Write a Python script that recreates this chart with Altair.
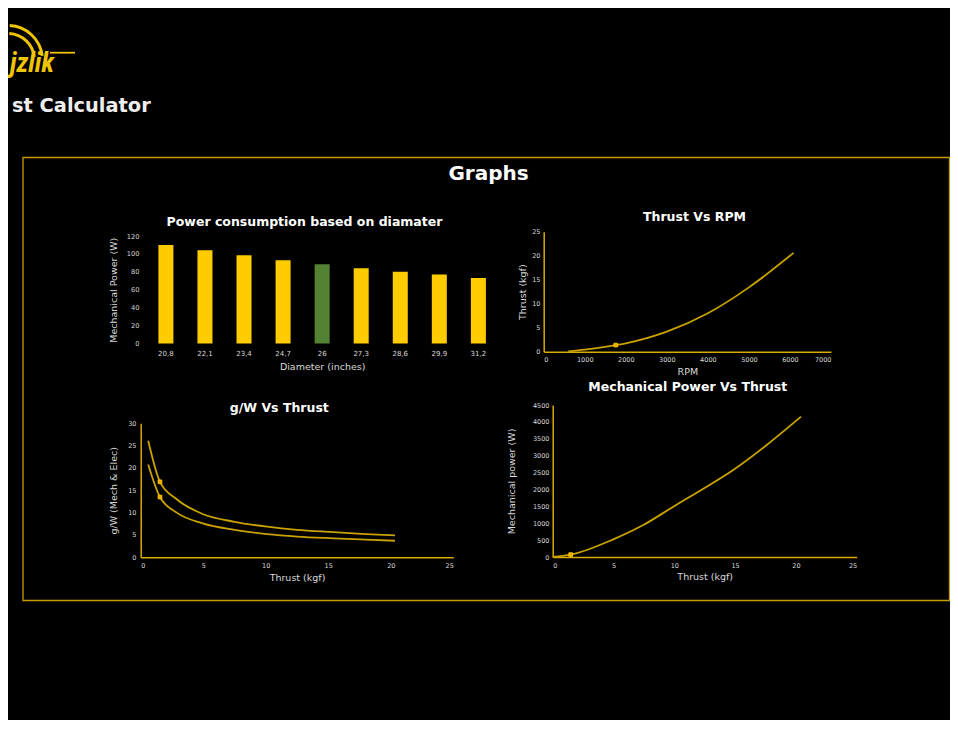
import altair as alt
import pandas as pd

# ---------------- data ----------------
diameters = ["20,8", "22,1", "23,4", "24,7", "26", "27,3", "28,6", "29,9", "31,2"]
mech_power_by_diam = [110, 104, 98.5, 93, 88.5, 84, 80, 77, 73]
selected_diameter = "26"

rpm_values = [600, 1000, 1756, 2000, 3000, 4000, 5000, 6088]
thrust_by_rpm = [0.05, 0.42, 1.38, 1.75, 4.17, 8.0, 13.4, 20.6]
rpm_marker_index = 2

gw_thrust = [0.6, 1.54, 2.88, 4.95, 7.5, 10.1, 12.5, 15.4, 18.0, 20.34]
gw_mech = [26.1, 16.9, 13.0, 9.7, 7.95, 6.85, 6.15, 5.65, 5.2, 4.9]
gw_elec = [20.8, 13.5, 10.0, 7.6, 6.15, 5.2, 4.65, 4.25, 3.95, 3.7]
gw_marker_index = 1

mp_thrust = [0, 1.48, 4.98, 7.45, 9.92, 12.38, 14.85, 17.6, 20.42]
mp_power = [0, 70, 524, 947, 1489, 2020, 2576, 3316, 4154]
mp_marker_index = 1

# ---------------- styling ----------------
W, H = 942, 712
GOLD_LINE = "#c9a200"
GOLD_AXIS = "#d6ac00"
FRAME = "#c49b00"
BAR_YELLOW = "#FFCC00"
BAR_GREEN = "#548235"
LABEL_C = "#d9d9d9"
FONT = "DejaVu Sans"


def axis(orient, pos, title, values, label_pad, title_pad, domain=True,
         label_size=6.5):
    if orient == "bottom":
        offset = pos - H
    else:
        offset = -pos
    kw = dict(
        orient=orient, offset=offset, title=title,
        grid=False, ticks=False, tickSize=0, labelPadding=label_pad,
        titlePadding=title_pad, labelFont=FONT, labelFontSize=label_size,
        labelColor=LABEL_C, titleFont=FONT, titleFontSize=9.5,
        titleColor=LABEL_C, titleFontWeight="normal", domain=domain,
        labelAngle=0,
    )
    if values is not None:
        kw["values"] = values
        kw["format"] = "d"
    if domain:
        kw.update(domainColor=GOLD_AXIS, domainWidth=1.5)
    return alt.Axis(**kw)


# ---------------- bar chart ----------------
bar_df = pd.DataFrame({
    "Diameter": diameters,
    "Power": mech_power_by_diam,
    "Selected": [d == selected_diameter for d in diameters],
})
bars = alt.Chart(bar_df).mark_bar().encode(
    x=alt.X("Diameter:N", sort=None,
            scale=alt.Scale(range=[138.3, 490], paddingInner=0.616, paddingOuter=0.31),
            axis=axis("bottom", 335.5, "Diameter (inches)", None, 6, 5,
                      domain=False, label_size=7)),
    y=alt.Y("Power:Q",
            scale=alt.Scale(domain=[0, 120], range=[335.5, 228], nice=False),
            axis=axis("left", 138.3, "Mechanical Power (W)",
                      [0, 20, 40, 60, 80, 100, 120], 7.3, 7.3,
                      domain=False, label_size=6.7)),
    color=alt.Color("Selected:N",
                    scale=alt.Scale(domain=[False, True], range=[BAR_YELLOW, BAR_GREEN]),
                    legend=None),
)

LINE_KW = dict(color=GOLD_LINE, strokeWidth=1.8, interpolate="monotone")
POINT_KW = dict(shape="square", size=14, filled=True, fill="#f2a900", stroke="#ffd000",
                strokeWidth=0.8, opacity=1)

# ---------------- thrust vs rpm ----------------
rpm_df = pd.DataFrame({"RPM": rpm_values, "Thrust": thrust_by_rpm})
rpm_df["Marker"] = [i == rpm_marker_index for i in range(len(rpm_df))]
rpm_x = alt.X("RPM:Q", scale=alt.Scale(domain=[0, 7000], range=[535.7, 823], nice=False),
              axis=axis("bottom", 343.7, "RPM", list(range(0, 7001, 1000)), 5, 3.3))
rpm_y = alt.Y("Thrust:Q", scale=alt.Scale(domain=[0, 25], range=[343.7, 223.7], nice=False),
              axis=axis("left", 535.7, "Thrust (kgf)", [0, 5, 10, 15, 20, 25], 3.7, 4.7))
rpm_line = alt.Chart(rpm_df).mark_line(**LINE_KW).encode(x=rpm_x, y=rpm_y)
rpm_pt = alt.Chart(rpm_df).transform_filter(alt.datum.Marker).mark_point(
    **POINT_KW).encode(x=rpm_x, y=rpm_y)
rpm_chart = alt.layer(rpm_line, rpm_pt)

# ---------------- g/W vs thrust ----------------
gw_df = pd.concat([
    pd.DataFrame({"Thrust": gw_thrust, "gW": gw_mech, "Series": "Mech",
                  "Marker": [i == gw_marker_index for i in range(len(gw_thrust))]}),
    pd.DataFrame({"Thrust": gw_thrust, "gW": gw_elec, "Series": "Elec",
                  "Marker": [i == gw_marker_index for i in range(len(gw_thrust))]}),
], ignore_index=True)
gw_x = alt.X("Thrust:Q", scale=alt.Scale(domain=[0, 25], range=[132.7, 445.3], nice=False),
             axis=axis("bottom", 549.3, "Thrust (kgf)", [0, 5, 10, 15, 20, 25], 5.2, 3.6))
gw_y = alt.Y("gW:Q", scale=alt.Scale(domain=[0, 30], range=[549.3, 415.3], nice=False),
             axis=axis("left", 132.7, "g/W (Mech & Elec)", [0, 5, 10, 15, 20, 25, 30], 4.7, 9.7))
gw_line = alt.Chart(gw_df).mark_line(**LINE_KW).encode(x=gw_x, y=gw_y, detail="Series:N")
gw_pt = alt.Chart(gw_df).transform_filter(alt.datum.Marker).mark_point(
    **POINT_KW).encode(x=gw_x, y=gw_y)
gw_chart = alt.layer(gw_line, gw_pt)

# ---------------- mechanical power vs thrust ----------------
mp_df = pd.DataFrame({"Thrust": mp_thrust, "Power": mp_power})
mp_df["Marker"] = [i == mp_marker_index for i in range(len(mp_df))]
mp_x = alt.X("Thrust:Q", scale=alt.Scale(domain=[0, 25], range=[544.7, 848.7], nice=False),
             axis=axis("bottom", 549, "Thrust (kgf)", [0, 5, 10, 15, 20, 25], 5.2, 2.7))
mp_y = alt.Y("Power:Q", scale=alt.Scale(domain=[0, 4500], range=[549, 397], nice=False),
             axis=axis("left", 544.7, "Mechanical power (W)",
                       list(range(0, 4501, 500)), 3.7, 16))
mp_line = alt.Chart(mp_df).mark_line(**LINE_KW).encode(x=mp_x, y=mp_y)
mp_pt = alt.Chart(mp_df).transform_filter(alt.datum.Marker).mark_point(
    **POINT_KW).encode(x=mp_x, y=mp_y)
mp_chart = alt.layer(mp_line, mp_pt)

# ---------------- decorations & titles ----------------
one = pd.DataFrame({"k": [0]})


def text_layer(txt, x, y, size, color="white", weight="bold", font=FONT,
               align="center"):
    return alt.Chart(one).mark_text(
        text=txt, font=font, fontSize=size, fontWeight=weight, color=color,
        align=align, baseline="middle",
    ).encode(x=alt.value(x), y=alt.value(y))


frame = alt.Chart(one).mark_rect(
    fill="black", fillOpacity=0, stroke=FRAME, strokeWidth=1.3
).encode(x=alt.value(15), x2=alt.value(941.5), y=alt.value(149.5), y2=alt.value(592.5))

LOGO = "#f0c400"
logo_arc_outer = alt.Chart(one).mark_arc(
    color=LOGO, radius=36, radius2=33, theta=0.05, theta2=1.45
).encode(x=alt.value(0), y=alt.value(52))
logo_arc_inner = alt.Chart(one).mark_arc(
    color=LOGO, radius=28, radius2=25, theta=0.05, theta2=1.45
).encode(x=alt.value(0), y=alt.value(52))
logo_rule = alt.Chart(one).mark_rule(color=LOGO, strokeWidth=1.8).encode(
    x=alt.value(42), x2=alt.value(67), y=alt.value(44.7))
logo_text = alt.Chart(one).mark_text(
    text="jzlik",
    font="Roboto Condensed, DejaVu Sans Condensed, Liberation Sans Narrow, Roboto",
    fontSize=27, fontWeight="bold", fontStyle="italic", color=LOGO,
    align="left", baseline="alphabetic",
).encode(x=alt.value(2), y=alt.value(64))

header = alt.Chart(one).mark_text(
    text="st Calculator", font=FONT, fontSize=19.4, fontWeight="bold",
    color="#eeeeee", align="left", baseline="alphabetic",
).encode(x=alt.value(4), y=alt.value(103.7))

titles = [
    text_layer("Graphs", 480.5, 166, 20),
    text_layer("Power consumption based on diamater", 296.5, 213.7, 12.5),
    text_layer("Thrust Vs RPM", 686.5, 209.3, 12.5),
    text_layer("g/W Vs Thrust", 271.3, 400.3, 12.5),
    text_layer("Mechanical Power Vs Thrust", 679.8, 378.7, 12.5),
]

chart = alt.layer(
    frame, logo_arc_outer, logo_arc_inner, logo_rule, logo_text, header, *titles,
    bars, rpm_chart, gw_chart, mp_chart,
).resolve_scale(
    x="independent", y="independent", color="independent"
).properties(
    width=W, height=H, background="black", padding=0,
    autosize=alt.AutoSizeParams(type="none"),
).configure_view(strokeWidth=0)

chart.save("out.html", embed_options={"renderer": "svg", "actions": False})
